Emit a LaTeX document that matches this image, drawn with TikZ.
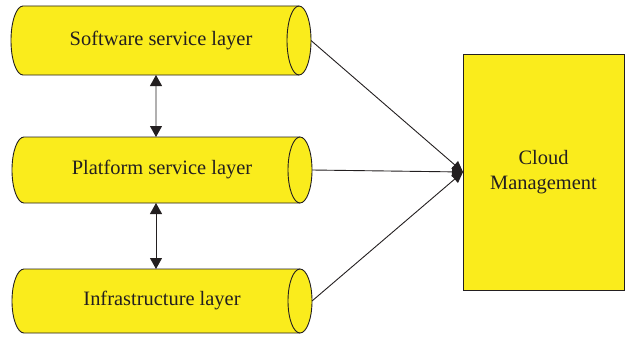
\documentclass[tikz,border=0pt]{standalone}
\usepackage{fontspec}
\setmainfont{Liberation Serif}
\usetikzlibrary{arrows.meta,backgrounds}
\definecolor{cylyellow}{RGB}{250,236,28}
\definecolor{ink}{RGB}{35,31,32}
\tikzset{
  layer/.style={minimum width=300bp, outer sep=0pt, inner sep=0pt, text=ink, font=\fontsize{20.5}{24}\selectfont},
  cylshape/.style={fill=cylyellow, draw=ink, line width=0.9bp},
  cylline/.style={draw=ink, line width=0.9bp},
  link/.style={draw=ink, line width=0.9bp, -{Triangle[length=11bp,width=10bp]}},
  dbl/.style={draw=ink, line width=0.9bp, {Triangle[length=11bp,width=12bp]}-{Triangle[length=11bp,width=12bp]}},
}
\newcommand\drawcyl[2]{%
  \path[cylshape] ([xshift=12bp]#1.north west) -- ([xshift=-12bp]#1.north east)
    arc[start angle=90, end angle=-90, x radius=12bp, y radius=#2bp]
    -- ([xshift=12bp]#1.south west)
    arc[start angle=270, end angle=90, x radius=12bp, y radius=#2bp] -- cycle;
  \draw[cylline] ([xshift=-12bp]#1.north east)
    arc[start angle=90, end angle=270, x radius=12bp, y radius=#2bp];
}
\begin{document}
\begin{tikzpicture}[x=1bp,y=1bp]
\useasboundingbox (0,0) rectangle (627,336);
\node[layer, minimum height=69bp] (sw) at (161,295.5) {Software service layer};
\node[layer, minimum height=66bp] (ps) at (162,166) {Platform service layer};
\node[layer, minimum height=64bp] (il) at (162,35) {Infrastructure layer};
\begin{scope}[on background layer]
  \drawcyl{sw}{34.5}
  \drawcyl{ps}{33}
  \drawcyl{il}{32}
\end{scope}
\node[draw=ink, fill=cylyellow, line width=0.9bp, minimum width=161bp, minimum height=236bp,
      inner sep=0pt, outer sep=0pt, align=center, text=ink, font=\fontsize{20.5}{25}\selectfont]
      (cm) at (543.5,164) {Cloud\\Management};
\draw[dbl] ([xshift=-5bp]sw.south) -- ([xshift=-6bp]ps.north);
\draw[dbl] ([xshift=-6bp]ps.south) -- ([xshift=-6bp]il.north);
\draw[link] (sw.east) -- (cm.west);
\draw[link] (ps.east) -- (cm.west);
\draw[link] (il.east) -- (cm.west);
\end{tikzpicture}
\end{document}
